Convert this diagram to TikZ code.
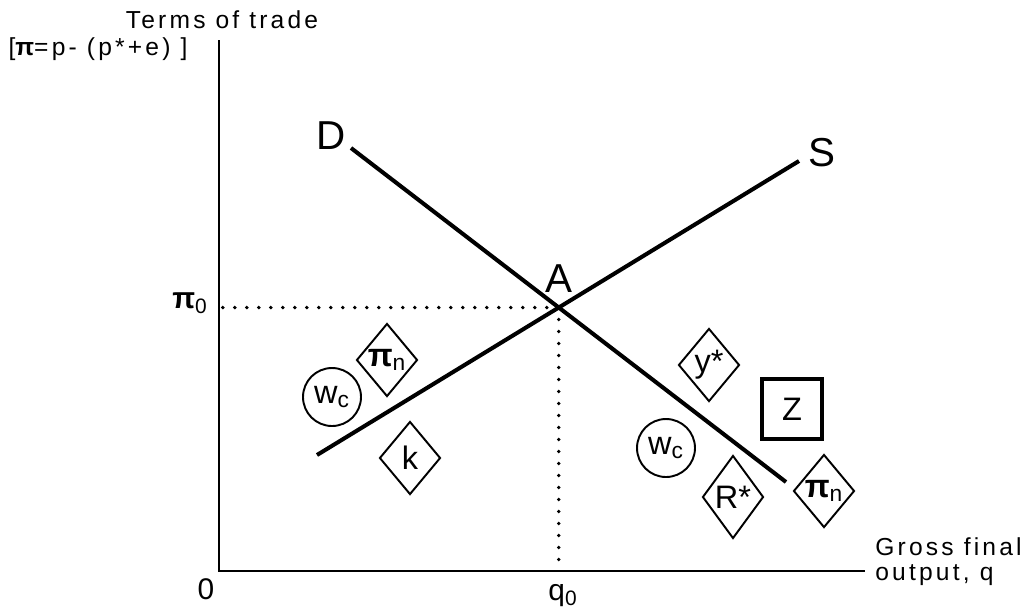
\documentclass[tikz,border=0pt]{standalone}
\usepackage{fontspec}
\setmainfont{Liberation Sans}
\newfontfamily\spacedfont[LetterSpace=13]{Liberation Sans}
\usetikzlibrary{shapes.geometric, positioning}
\tikzset{
  curve/.style={line width=2.3pt},
  axisline/.style={line width=1.4pt},
  guide/.style={line width=2.2pt, line cap=round, dash pattern=on 0pt off 0.24cm},
  dbox/.style={diamond, draw, line width=1.1pt, inner sep=0pt,
               minimum width=1.22cm, minimum height=#1,
               font=\fontsize{18.5}{21}\selectfont},
  dbox/.default=1.46cm,
  cbox/.style={circle, draw, line width=1.1pt, inner sep=0pt,
               minimum size=1.16cm, font=\fontsize{18.5}{21}\selectfont},
  zbox/.style={rectangle, draw, line width=1.8pt, inner sep=0pt,
               minimum size=1.2cm, font=\fontsize{18.5}{21}\selectfont},
  clbl/.style={inner sep=0pt, font=\fontsize{23}{26}\selectfont},
  albl/.style={inner sep=0pt, font=\spacedfont\fontsize{14}{14.2}\selectfont},
  tlbl/.style={inner sep=0pt, font=\fontsize{17}{20}\selectfont},
}

\begin{document}
\begin{tikzpicture}[x=0.02cm, y=-0.02cm]
  \useasboundingbox (0,0) rectangle (1029,610);

  % AXES
  \coordinate (orig) at (219,571);
  \coordinate (y_top) at (219,40);
  \coordinate (x_end) at (865,571);
  \draw[axisline] (y_top) -- (orig) -- (x_end);

  \node[albl] (lbl_tot) at (222,20) {Terms of trade};
  \node[albl] (lbl_pi) at (98,49) {[{\bfseries π}=p- (p*+e) ]};
  \node[albl, anchor=north west, align=left] (lbl_q) at (875,537) {Gross final\\output, q};
  \node[tlbl] (lbl_O) at (206,589) {0};
  \node[tlbl] (lbl_q0) at (563,596) {q\textsubscript{0}};
  \node[tlbl] (lbl_pi0) at (190,303) {{\bfseries π}\textsubscript{0}};

  % DEMAND AND SUPPLY
  \coordinate (D_start) at (351,148);
  \coordinate (D_end) at (786,482);
  \coordinate (S_start) at (317,455);
  \coordinate (S_end) at (799,161);
  \draw[curve] (D_start) -- (D_end);
  \draw[curve] (S_start) -- (S_end);
  \coordinate (A) at (intersection of D_start--D_end and S_start--S_end);
  \draw[guide] (A) -- (A -| orig);
  \draw[guide] (A) -- (A |- orig);

  \node[clbl, above=0.3cm of A] (lbl_A) {A};
  \node[clbl] (lbl_D) at (331,136) {D};
  \node[clbl] (lbl_S) at (822,153) {S};

  % SHIFT VARIABLES OF S
  \node[cbox] (wc_left) at (332,397) {w\textsubscript{c}};
  \node[dbox] (pin_left) at (387,360) {{\bfseries π}\textsubscript{n}};
  \node[dbox] (k_left) at (410,458) {k};

  % SHIFT VARIABLES OF D
  \node[dbox] (ystar) at (709,365) {y*};
  \node[zbox] (z_right) at (792,409) {Z};
  \node[cbox] (wc_right) at (666,448) {w\textsubscript{c}};
  \node[dbox=1.66cm] (rstar) at (733,497) {R*};
  \node[dbox] (pin_right) at (824,491) {{\bfseries π}\textsubscript{n}};
\end{tikzpicture}
\end{document}
